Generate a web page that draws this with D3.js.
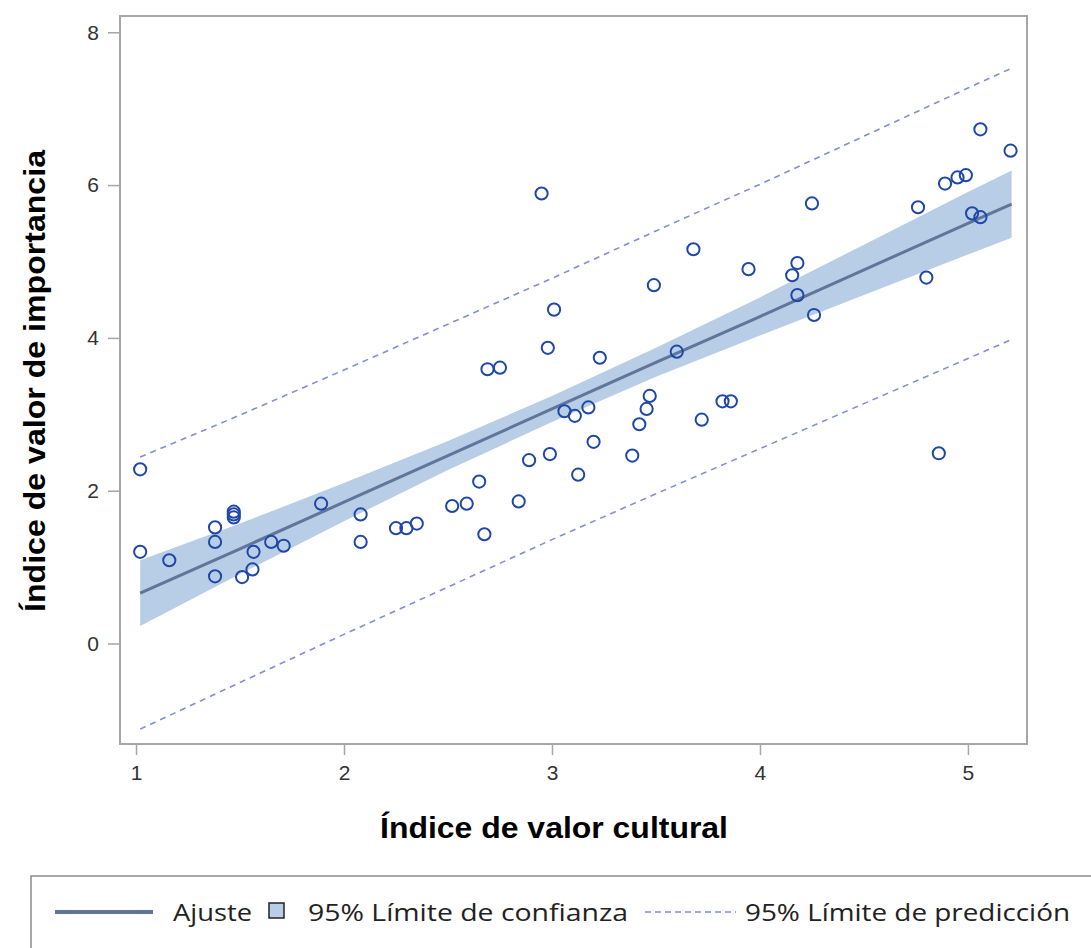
<!DOCTYPE html>
<html>
<head>
<meta charset="utf-8">
<script src="https://cdn.jsdelivr.net/npm/d3@7"></script>
<style>
  html, body { margin: 0; padding: 0; background: #fff; }
  svg { display: block; }
</style>
</head>
<body>
<svg id="chart" width="1091" height="948"></svg>
<script>
// ---- Data ----
const pointsX = [1.02, 1.02, 1.16, 1.38, 1.38, 1.38, 1.47, 1.47, 1.47, 1.51, 1.56, 1.565, 1.65, 1.71,
  1.89, 2.08, 2.08, 2.25, 2.30, 2.35, 2.52, 2.59, 2.65, 2.675, 2.69, 2.75, 2.84, 2.89, 2.95, 2.98,
  2.99, 3.01, 3.06, 3.11, 3.126, 3.175, 3.20, 3.23, 3.386, 3.42, 3.455, 3.47, 3.49, 3.60, 3.68,
  3.72, 3.82, 3.86, 3.945, 4.155, 4.18, 4.18, 4.25, 4.26, 4.76, 4.80, 4.86, 4.89, 4.95, 4.99,
  5.02, 5.06, 5.06, 5.205];
const pointsY = [2.28, 1.20, 1.09, 1.52, 1.33, 0.88, 1.725, 1.69, 1.65, 0.87, 0.97, 1.20, 1.33, 1.28,
  1.83, 1.69, 1.33, 1.51, 1.51, 1.57, 1.80, 1.83, 2.12, 1.43, 3.59, 3.61, 1.86, 2.40, 5.89, 3.87,
  2.48, 4.37, 3.04, 2.98, 2.21, 3.09, 2.64, 3.74, 2.46, 2.87, 3.07, 3.24, 4.69, 3.82, 5.16,
  2.93, 3.17, 3.17, 4.90, 4.82, 4.98, 4.56, 5.76, 4.30, 5.71, 4.79, 2.49, 6.02, 6.10, 6.13,
  5.63, 5.58, 6.73, 6.45];

const bandX   = [1.02, 1.5, 2.0, 2.5, 3.0, 3.5, 4.0, 4.5, 5.0, 5.21];
const fitY    = [0.66, 1.24, 1.85, 2.46, 3.07, 3.68, 4.28, 4.89, 5.50, 5.75];
const clLow   = [0.23, 0.91, 1.60, 2.27, 2.90, 3.49, 4.03, 4.56, 5.09, 5.31];
const clHigh  = [1.09, 1.57, 2.10, 2.65, 3.24, 3.87, 4.53, 5.22, 5.91, 6.19];
const plLow   = [-1.12, -0.51, 0.12, 0.74, 1.36, 1.96, 2.55, 3.14, 3.73, 3.98];
const plHigh  = [2.44, 2.99, 3.58, 4.18, 4.78, 5.40, 6.01, 6.64, 7.27, 7.53];

const xTicks = [1, 2, 3, 4, 5];
const yTicks = [0, 2, 4, 6, 8];
const xTitle = "Índice de valor cultural";
const yTitle = "Índice de valor de importancia";
const legendLabels = ["Ajuste", "95% Límite de confianza", "95% Límite de predicción"];

// ---- Layout ----
const svg = d3.select("#chart");
const L = 120, R = 1027, T = 16, B = 744;
const x = d3.scaleLinear().domain([0.923, 5.284]).range([L, R]);
const y = d3.scaleLinear().domain([-1.315, 8.213]).range([B, T]);

const band = bandX.map((v, i) => ({x: v, fit: fitY[i], cl: clLow[i], ch: clHigh[i], pl: plLow[i], ph: plHigh[i]}));
const pts = pointsX.map((v, i) => ({x: v, y: pointsY[i]}));

const cBand = "#b8cde6", cFit = "#61749a", cPL = "#7f8fd6", cPt = "#1f47a8", cFrame = "#a6a6a6";

// confidence band
svg.append("path")
  .datum(band)
  .attr("fill", cBand)
  .attr("d", d3.area().x(d => x(d.x)).y0(d => y(d.cl)).y1(d => y(d.ch)));

// fit line
svg.append("path")
  .datum(band)
  .attr("fill", "none").attr("stroke", cFit).attr("stroke-width", 3)
  .attr("d", d3.line().x(d => x(d.x)).y(d => y(d.fit)));

// prediction limits
["pl", "ph"].forEach(k => {
  svg.append("path")
    .datum(band)
    .attr("fill", "none").attr("stroke", cPL).attr("stroke-width", 1.6)
    .attr("stroke-dasharray", "6,5")
    .attr("d", d3.line().x(d => x(d.x)).y(d => y(d[k])));
});

// points
svg.append("g").selectAll("circle").data(pts).join("circle")
  .attr("cx", d => x(d.x)).attr("cy", d => y(d.y)).attr("r", 6.1)
  .attr("fill", "none").attr("stroke", cPt).attr("stroke-width", 2);

// frame
svg.append("rect").attr("x", L).attr("y", T).attr("width", R - L).attr("height", B - T)
  .attr("fill", "none").attr("stroke", cFrame).attr("stroke-width", 2);

// axes
const tickFont = "'Liberation Sans Narrow', 'Liberation Sans', Arial, sans-serif";
const xAxis = svg.append("g").attr("transform", `translate(0,${B})`)
  .call(d3.axisBottom(x).tickValues(xTicks).tickSize(11).tickPadding(10).tickFormat(d3.format("d")));
const yAxis = svg.append("g").attr("transform", `translate(${L},0)`)
  .call(d3.axisLeft(y).tickValues(yTicks).tickSize(12).tickPadding(9).tickFormat(d3.format("d")));
[xAxis, yAxis].forEach(a => {
  a.select(".domain").remove();
  a.selectAll(".tick line").attr("stroke", cFrame).attr("stroke-width", 1.5);
  a.selectAll(".tick text").attr("fill", "#333").style("font-family", tickFont).style("font-size", "21px");
});

// axis titles
svg.append("text").attr("x", 554).attr("y", 838)
  .attr("text-anchor", "middle")
  .attr("textLength", 348).attr("lengthAdjust", "spacingAndGlyphs")
  .style("font-family", "'Liberation Sans', Arial, sans-serif").style("font-weight", "bold").style("font-size", "29px")
  .attr("fill", "#000").text(xTitle);
svg.append("text").attr("transform", "translate(45,381) rotate(-90)")
  .attr("text-anchor", "middle")
  .attr("textLength", 462).attr("lengthAdjust", "spacingAndGlyphs")
  .style("font-family", "'Liberation Sans', Arial, sans-serif").style("font-weight", "bold").style("font-size", "29px")
  .attr("fill", "#000").text(yTitle);

// legend
const lg = svg.append("g");
lg.append("rect").attr("x", 31).attr("y", 876).attr("width", 1080).attr("height", 100)
  .attr("fill", "#fff").attr("stroke", "#8c8c8c").attr("stroke-width", 1.5);
const ly = 912;
const legFont = "'Open Sans', 'Noto Sans', sans-serif";
lg.append("line").attr("x1", 55).attr("x2", 153).attr("y1", ly).attr("y2", ly)
  .attr("stroke", cFit).attr("stroke-width", 4);
lg.append("text").attr("x", 173).attr("y", ly + 9).attr("textLength", 79).attr("lengthAdjust", "spacingAndGlyphs")
  .style("font-family", legFont).style("font-size", "24px").attr("fill", "#222").text(legendLabels[0]);
lg.append("rect").attr("x", 269).attr("y", 903).attr("width", 15).attr("height", 15)
  .attr("fill", cBand).attr("stroke", "#222").attr("stroke-width", 1.5);
lg.append("text").attr("x", 308).attr("y", ly + 9).attr("textLength", 320).attr("lengthAdjust", "spacingAndGlyphs")
  .style("font-family", legFont).style("font-size", "24px").attr("fill", "#222").text(legendLabels[1]);
lg.append("line").attr("x1", 645).attr("x2", 736).attr("y1", ly).attr("y2", ly)
  .attr("stroke", cPL).attr("stroke-width", 1.6).attr("stroke-dasharray", "6,4");
lg.append("text").attr("x", 745).attr("y", ly + 9).attr("textLength", 325).attr("lengthAdjust", "spacingAndGlyphs")
  .style("font-family", legFont).style("font-size", "24px").attr("fill", "#222").text(legendLabels[2]);
</script>
</body>
</html>
